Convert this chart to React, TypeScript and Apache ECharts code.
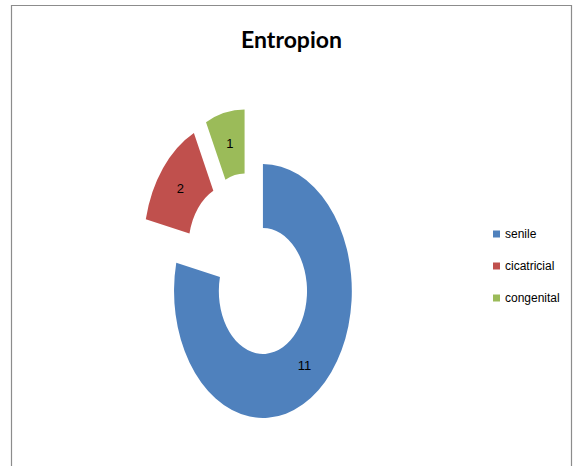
import React, { useEffect, useRef } from "react";
import * as echarts from "echarts";

const titleText = "Entropion";
const categories = ["senile", "cicatricial", "congenital"];
const values = [11, 2, 1];
const colors = ["#4F81BD", "#C0504D", "#9BBB59"];

const labelFont = "'Liberation Sans', Arial, sans-serif";

export default function App() {
  const ref = useRef<HTMLDivElement>(null);

  useEffect(() => {
    if (!ref.current) return;
    const chart = echarts.init(ref.current, null, { renderer: "svg" });
    const total = values.reduce((a, b) => a + b, 0);
    const squeezeX = 0.7; // the donut is drawn as an ellipse in the reference

    const series = categories.map((name, i) => ({
      type: "custom",
      name,
      coordinateSystem: "none",
      data: [[values[i]]],
      itemStyle: { color: colors[i] },
      renderItem: (params: any, api: any) => {
        const W = api.getWidth();
        const H = api.getHeight();
        const cx = W * 0.433;
        const cy = H * 0.5725;
        const R = H * 0.2725;
        const r0 = R * 0.496;
        const explode = R * 0.244;
        const before = values.slice(0, i).reduce((a, b) => a + b, 0);
        const v = api.value(0);
        const start = -Math.PI / 2 + (before / total) * Math.PI * 2;
        const end = start + (v / total) * Math.PI * 2;
        const mid = (start + end) / 2;
        const ox = Math.cos(mid) * explode;
        const oy = Math.sin(mid) * explode;
        const lr = explode + (R + r0) / 2;
        return {
          type: "group",
          children: [
            {
              type: "group",
              x: cx,
              y: cy,
              scaleX: squeezeX,
              children: [
                {
                  type: "sector",
                  shape: { cx: ox, cy: oy, r: R, r0, startAngle: start, endAngle: end, clockwise: true },
                  style: { fill: colors[i] },
                },
              ],
            },
            {
              type: "text",
              x: cx + Math.cos(mid) * lr * squeezeX,
              y: cy + Math.sin(mid) * lr,
              style: {
                text: String(v),
                fill: "#000",
                fontSize: 13,
                fontFamily: labelFont,
                align: "center",
                verticalAlign: "middle",
              },
            },
          ],
        };
      },
    }));

    chart.setOption({
      animation: false,
      backgroundColor: "#ffffff",
      title: {
        text: titleText,
        left: 291.5,
        top: 27,
        padding: 0,
        textAlign: "center",
        textStyle: {
          fontFamily: "Lato, 'Liberation Sans', sans-serif",
          fontWeight: "bold",
          fontSize: 23,
          color: "#000",
        },
      },
      legend: {
        data: categories,
        orient: "vertical",
        left: 493,
        top: 227,
        padding: 0,
        icon: "rect",
        itemWidth: 7,
        itemHeight: 7,
        itemGap: 18,
        itemTextGap: 4,
        selectedMode: false,
        textStyle: { fontFamily: labelFont, fontSize: 12, lineHeight: 14, color: "#000" },
      },
      graphic: [
        {
          type: "rect",
          shape: { x: 11.5, y: 5.5, width: 560, height: 480 },
          style: { fill: "none", stroke: "#8c8c8c", lineWidth: 1.2 },
          silent: true,
          z: -1,
        },
      ],
      series,
    });

    return () => chart.dispose();
  }, []);

  return (
    <div
      ref={ref}
      style={{ position: "fixed", left: 0, top: 0, width: 576, height: 466 }}
    />
  );
}
